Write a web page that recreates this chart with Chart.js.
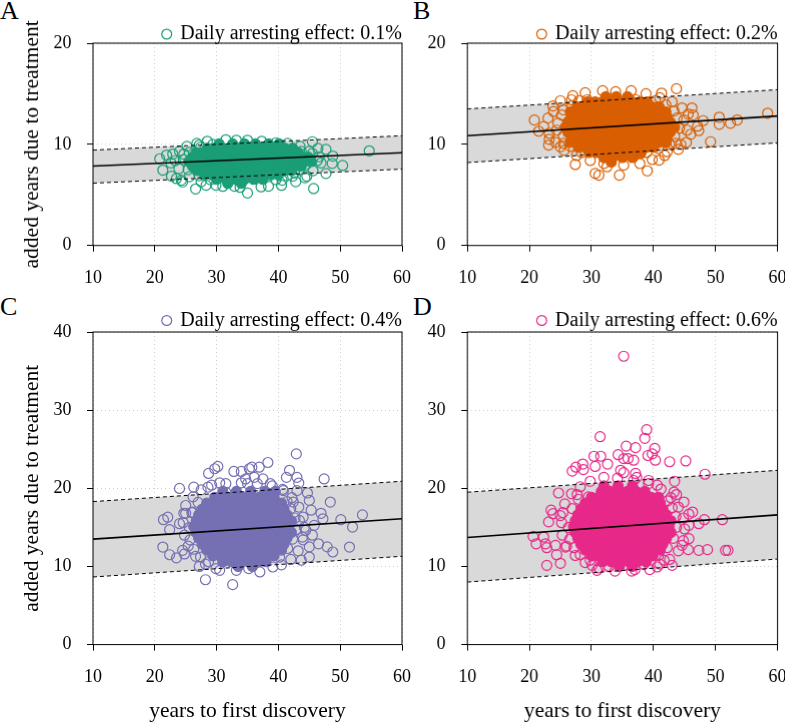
<!DOCTYPE html>
<html>
<head>
<meta charset="utf-8">
<script src="https://cdn.jsdelivr.net/npm/chart.js@4.4.1/dist/chart.umd.min.js"></script>
<style>
  body { margin: 0; width: 785px; height: 723px; background: #fff; position: relative; overflow: hidden;
         font-family: "Liberation Serif", "Times New Roman", serif; }
  .panel { position: absolute; width: 420px; height: 340px; }
  .letter { position: absolute; font-size: 26px; line-height: 26px; color: #000; }
</style>
</head>
<body>
<div class="letter" style="left:0px;top:-2px">A</div>
<div class="letter" style="left:413px;top:-2px">B</div>
<div class="letter" style="left:0px;top:294px">C</div>
<div class="letter" style="left:413px;top:294px">D</div>
<div class="panel" id="wrapA"><canvas id="chartA"></canvas></div>
<div class="panel" id="wrapB"><canvas id="chartB"></canvas></div>
<div class="panel" id="wrapC"><canvas id="chartC"></canvas></div>
<div class="panel" id="wrapD"><canvas id="chartD"></canvas></div>
<script>
const serif = '"Liberation Serif", "Times New Roman", serif';

// x range of the fitted lines
const fitX = [10, 60];

// regression line and prediction band, values at x = 10 and x = 60
const fitA = [7.85, 9.17];
const upperA = [9.43, 10.85];
const lowerA = [6.16, 7.55];
const fitB = [10.85, 12.8];
const upperB = [13.5, 15.4];
const lowerB = [8.2, 10.15];
const fitC = [13.5, 16.1];
const upperC = [18.3, 20.9];
const lowerC = [8.65, 11.3];
const fitD = [13.7, 16.6];
const upperD = [19.5, 22.3];
const lowerD = [8.0, 10.95];

// solid middle of each cloud: [y, [x, x, ...]]
const coreA = [
  [10.05, [30.4, 32.6, 34.5, 36.3, 38.4, 40.1]],
  [9.62, [28.5, 29.8, 31.0, 32.3, 33.5, 34.8, 36.0, 37.3, 38.5, 39.8, 41.0, 42.3]],
  [9.18, [26.7, 27.8, 28.9, 30.0, 31.1, 32.2, 33.3, 34.4, 35.5, 36.6, 37.7, 38.8, 39.9, 41.0, 42.1, 43.2]],
  [8.74, [26.1, 27.2, 28.3, 29.4, 30.5, 31.6, 32.7, 33.8, 34.9, 36.0, 37.1, 38.2, 39.3, 40.4, 41.5, 42.6, 43.7, 44.8]],
  [8.30, [25.5, 26.6, 27.7, 28.8, 29.9, 31.0, 32.1, 33.2, 34.3, 35.4, 36.5, 37.6, 38.7, 39.8, 40.9, 42.0, 43.1, 44.2, 45.3]],
  [7.86, [26.1, 27.2, 28.3, 29.4, 30.5, 31.6, 32.7, 33.8, 34.9, 36.0, 37.1, 38.2, 39.3, 40.4, 41.5, 42.6, 43.7]],
  [7.42, [26.8, 27.9, 29.0, 30.1, 31.2, 32.3, 33.4, 34.5, 35.6, 36.7, 37.8, 38.9, 40.0, 41.1, 42.2]],
  [6.98, [28.0, 29.2, 30.4, 31.6, 32.8, 34.0, 35.2, 36.4, 37.6, 38.8, 40.0]],
  [6.54, [30.0, 31.5, 33.0, 34.5, 36.0, 37.5]],
  [6.15, [31.8, 34.0]]
];
const coreB = [
  [14.7, [32.3, 34.0, 35.8]],
  [14.2, [29.4, 30.6, 31.8, 33.0, 34.2, 35.4, 36.6, 37.8, 39.0]],
  [13.7, [27.7, 28.8, 29.9, 31.0, 32.1, 33.2, 34.3, 35.4, 36.5, 37.6, 38.7, 39.8, 40.9]],
  [13.2, [26.6, 27.7, 28.8, 29.9, 31.0, 32.1, 33.2, 34.3, 35.4, 36.5, 37.6, 38.7, 39.8, 40.9, 42.0]],
  [12.7, [26.8, 27.9, 29.0, 30.1, 31.2, 32.3, 33.4, 34.5, 35.6, 36.7, 37.8, 38.9, 40.0, 41.1, 42.2]],
  [12.2, [26.2, 27.3, 28.4, 29.5, 30.6, 31.7, 32.8, 33.9, 35.0, 36.1, 37.2, 38.3, 39.4, 40.5, 41.6, 42.7]],
  [11.7, [25.8, 26.9, 28.0, 29.1, 30.2, 31.3, 32.4, 33.5, 34.6, 35.7, 36.8, 37.9, 39.0, 40.1, 41.2, 42.3, 43.4]],
  [11.2, [26.2, 27.3, 28.4, 29.5, 30.6, 31.7, 32.8, 33.9, 35.0, 36.1, 37.2, 38.3, 39.4, 40.5, 41.6, 42.7]],
  [10.7, [26.8, 27.9, 29.0, 30.1, 31.2, 32.3, 33.4, 34.5, 35.6, 36.7, 37.8, 38.9, 40.0, 41.1, 42.2]],
  [10.2, [26.6, 27.7, 28.8, 29.9, 31.0, 32.1, 33.2, 34.3, 35.4, 36.5, 37.6, 38.7, 39.8, 40.9, 42.0]],
  [9.7, [27.9, 29.0, 30.1, 31.2, 32.3, 33.4, 34.5, 35.6, 36.7, 37.8, 38.9, 40.0]],
  [9.2, [29.6, 30.8, 32.0, 33.2, 34.4, 35.6, 36.8, 38.0]],
  [8.7, [32.0, 33.4, 35.0, 36.6]],
  [8.25, [33.2]]
];
const coreC = [
  [19.6, [31.0, 33.2, 35.5, 37.8, 39.5]],
  [18.85, [29.7, 30.9, 32.1, 33.3, 34.5, 35.7, 36.9, 38.1, 39.3]],
  [18.1, [28.4, 29.5, 30.6, 31.7, 32.8, 33.9, 35.0, 36.1, 37.2, 38.3, 39.4, 40.5]],
  [17.35, [27.7, 28.8, 29.9, 31.0, 32.1, 33.2, 34.3, 35.4, 36.5, 37.6, 38.7, 39.8, 40.9]],
  [16.6, [27.1, 28.2, 29.3, 30.4, 31.5, 32.6, 33.7, 34.8, 35.9, 37.0, 38.1, 39.2, 40.3, 41.4]],
  [15.85, [26.7, 27.8, 28.9, 30.0, 31.1, 32.2, 33.3, 34.4, 35.5, 36.6, 37.7, 38.8, 39.9, 41.0, 42.1]],
  [15.1, [26.3, 27.4, 28.5, 29.6, 30.7, 31.8, 32.9, 34.0, 35.1, 36.2, 37.3, 38.4, 39.5, 40.6, 41.7]],
  [14.35, [26.7, 27.8, 28.9, 30.0, 31.1, 32.2, 33.3, 34.4, 35.5, 36.6, 37.7, 38.8, 39.9, 41.0, 42.1]],
  [13.6, [27.1, 28.2, 29.3, 30.4, 31.5, 32.6, 33.7, 34.8, 35.9, 37.0, 38.1, 39.2, 40.3, 41.4]],
  [12.85, [27.7, 28.8, 29.9, 31.0, 32.1, 33.2, 34.3, 35.4, 36.5, 37.6, 38.7, 39.8, 40.9]],
  [12.1, [28.4, 29.5, 30.6, 31.7, 32.8, 33.9, 35.0, 36.1, 37.2, 38.3, 39.4, 40.5]],
  [11.35, [29.4, 30.5, 31.6, 32.7, 33.8, 34.9, 36.0, 37.1, 38.2, 39.3]],
  [10.6, [31.0, 32.4, 33.8, 35.2, 36.6, 38.0]],
  [10.0, [33.5, 35.8]]
];
const coreD = [
  [20.3, [32.0, 34.3, 36.6]],
  [19.6, [31.6, 33.0, 34.4, 35.8, 37.2, 38.6]],
  [18.85, [30.0, 31.2, 32.4, 33.6, 34.8, 36.0, 37.2, 38.4, 39.6, 40.8]],
  [18.1, [29.0, 30.1, 31.2, 32.3, 33.4, 34.5, 35.6, 36.7, 37.8, 38.9, 40.0, 41.1]],
  [17.35, [28.3, 29.4, 30.5, 31.6, 32.7, 33.8, 34.9, 36.0, 37.1, 38.2, 39.3, 40.4, 41.5]],
  [16.6, [27.8, 28.9, 30.0, 31.1, 32.2, 33.3, 34.4, 35.5, 36.6, 37.7, 38.8, 39.9, 41.0, 42.1]],
  [15.85, [27.4, 28.5, 29.6, 30.7, 31.8, 32.9, 34.0, 35.1, 36.2, 37.3, 38.4, 39.5, 40.6, 41.7, 42.8]],
  [15.1, [27.1, 28.2, 29.3, 30.4, 31.5, 32.6, 33.7, 34.8, 35.9, 37.0, 38.1, 39.2, 40.3, 41.4, 42.5]],
  [14.35, [27.4, 28.5, 29.6, 30.7, 31.8, 32.9, 34.0, 35.1, 36.2, 37.3, 38.4, 39.5, 40.6, 41.7, 42.8]],
  [13.6, [27.8, 28.9, 30.0, 31.1, 32.2, 33.3, 34.4, 35.5, 36.6, 37.7, 38.8, 39.9, 41.0, 42.1]],
  [12.85, [28.3, 29.4, 30.5, 31.6, 32.7, 33.8, 34.9, 36.0, 37.1, 38.2, 39.3, 40.4, 41.5]],
  [12.1, [29.0, 30.1, 31.2, 32.3, 33.4, 34.5, 35.6, 36.7, 37.8, 38.9, 40.0, 41.1]],
  [11.35, [30.0, 31.1, 32.2, 33.3, 34.4, 35.5, 36.6, 37.7, 38.8, 39.9]],
  [10.6, [31.8, 33.2, 34.6, 36.0, 37.4, 38.8]],
  [10.0, [34.5, 36.6]]
];

// open circles around each cloud: [x, y]
const looseA = [[20.8,8.57],[21.3,7.45],[21.9,8.94],[22.9,9.04],[22.6,8.17],[22.7,6.85],[23.5,6.62],[24.5,6.29],
  [26.6,5.59],[27.2,9.93],[29.4,10.0],[32.9,5.86],[35.0,5.19],[33.2,10.4],[35.0,10.4],[38.4,5.86],[39.6,10.16],
  [40.6,6.45],[42.3,6.85],[42.6,7.18],[44.6,6.85],[45.5,10.26],[45.7,5.63],[46.4,9.6],[47.7,9.5],[47.7,7.12],
  [48.8,8.84],[48.7,8.11],[50.4,7.91],[54.7,9.36],[46.9,8.17],[45.5,9.1],[46.6,8.77],[24.7,9.04],[24.3,6.45],
  [28.3,5.96],[29.9,5.96],
  [24.0,9.3],[25.2,9.8],[26.8,10.1],[28.5,10.3],[31.5,10.45],[37.3,10.3],[41.5,10.1],[43.5,9.8],[45.0,9.3],
  [46.3,8.4],[45.6,7.4],[44.3,6.7],[42.8,6.3],[40.5,5.95],[37.2,5.8],[33.8,5.75],[31.0,5.85],[27.5,6.3],
  [25.6,6.8],[23.9,7.6],[23.3,8.4],[24.6,8.5],[25.4,7.5],[27.2,6.9],[29.0,6.5],[39.6,6.5],[41.4,6.9],
  [43.4,7.5],[44.5,8.0],[43.7,9.3],[44.1,8.6],[25.6,9.2],[27.4,9.7]];
const looseB = [[20.8,12.4],[21.5,11.3],[22.3,11.75],[23.1,9.93],[23.2,10.5],[23.9,13.24],[25.0,9.76],[25.5,13.4],
  [27.4,8.01],[29.3,14.4],[30.6,7.12],[31.2,6.95],[32.0,8.11],[32.5,7.78],[33.9,15.2],[34.5,6.95],[35.2,7.94],
  [36.4,15.3],[37.2,14.4],[39.0,7.38],[40.9,8.44],[41.3,15.06],[43.7,15.5],[44.4,10.0],[46.2,13.6],[46.4,12.9],
  [47.1,11.8],[47.3,11.35],[48.0,12.34],[49.2,10.26],[50.6,12.68],[50.6,11.98],[52.4,12.08],[53.5,12.41],
  [58.4,13.08],[45.4,11.4],[44.9,12.4],[43.6,10.1],[42.2,9.27],[37.9,9.1],[36.8,8.77],[33.3,8.77],[25.5,10.1],
  [26.8,14.4],
  [23.0,12.6],[23.8,13.8],[25.0,14.3],[27.0,14.8],[29.0,15.1],[31.8,15.3],[38.8,15.0],[41.0,14.6],[43.0,14.2],
  [44.6,13.6],[45.6,13.0],[46.0,11.0],[45.3,10.2],[44.0,9.5],[41.8,8.9],[39.8,8.5],[37.8,8.1],[29.8,8.4],
  [27.6,8.9],[25.6,9.4],[24.2,10.2],[23.2,11.1],[24.6,12.1],[24.4,11.4],[25.2,12.9],[25.5,10.8],[26.6,9.8],
  [28.4,9.2],[38.9,9.2],[40.8,9.6],[42.6,10.0],[43.4,10.8],[44.2,11.6],[43.8,12.6],[43.3,13.3],[42.0,13.9],
  [40.3,14.3],[28.0,14.3],[26.8,13.8]];
const looseC = [[21.3,12.48],[21.4,15.98],[22.1,16.3],[22.4,14.7],[22.4,11.5],[23.5,11.1],[24.0,19.98],[24.0,15.47],
  [24.5,12.06],[24.8,11.6],[25.0,16.8],[26.1,16.96],[26.3,20.15],[27.2,10.0],[28.2,8.3],[28.6,20.15],[28.7,21.9],
  [29.7,22.5],[30.2,22.8],[29.9,9.72],[30.5,20.7],[31.5,19.47],[32.8,22.16],[32.6,7.67],[33.2,9.5],[34.0,22.16],
  [34.7,21.2],[35.0,20.6],[35.3,22.5],[35.7,22.7],[36.1,21.4],[36.9,22.7],[37.5,21.2],[38.3,23.3],[38.7,20.6],
  [35.2,9.72],[39.1,9.93],[40.7,19.86],[41.3,21.4],[41.8,22.3],[42.4,18.24],[42.9,24.4],[43.0,21.4],[43.3,20.67],
  [43.0,19.7],[43.7,10.8],[44.7,19.4],[45.0,18.45],[45.0,11.2],[45.3,17.2],[45.5,14.0],[45.0,12.5],[45.8,15.26],
  [46.5,12.9],[46.9,16.8],[47.2,16.1],[47.4,21.2],[47.9,12.5],[48.4,18.24],[48.8,11.85],[50.1,15.98],[51.5,12.48],
  [52.0,15.04],[53.6,16.6],[43.9,13.76],[44.4,14.6],[43.4,15.9],
  [25.0,17.8],[26.2,18.9],[27.5,19.8],[29.2,20.4],[31.5,20.6],[34.0,20.7],[36.6,20.6],[39.0,20.3],[40.8,19.7],
  [42.2,18.8],[43.3,17.6],[44.0,16.3],[44.2,15.0],[44.0,13.4],[43.2,12.0],[42.0,10.9],[40.5,10.2],[37.0,9.3],
  [30.5,9.5],[28.2,10.3],[26.6,11.3],[25.4,12.6],[24.8,14.0],[24.6,15.6],[24.7,16.8],[25.6,15.0],[25.7,13.4],
  [26.3,12.2],[27.4,11.2],[28.7,10.6],[40.2,11.2],[41.5,12.3],[42.3,13.5],[42.9,14.7],[42.7,16.2],[42.0,17.4],
  [41.4,18.3],[27.0,18.2],[26.0,16.9]];
const looseD = [[35.2,36.9],[31.4,26.6],[38.9,27.5],[38.6,26.4],[35.6,25.4],[37.1,25.2],[40.2,25.1],[39.8,24.4],
  [39.1,24.2],[40.3,23.6],[42.6,23.4],[45.2,23.5],[34.3,24.3],[30.4,24.1],[31.5,24.1],[30.6,22.8],[32.6,23.1],
  [35.2,23.8],[35.9,23.8],[36.8,23.6],[26.9,22.2],[27.5,22.7],[28.6,23.1],[28.7,22.4],[34.7,22.3],[35.2,22.0],
  [37.1,21.9],[37.3,21.4],[39.2,21.0],[40.6,20.4],[43.4,20.9],[48.3,21.8],[24.7,19.4],[27.7,19.2],[29.5,18.9],
  [43.3,19.5],[43.7,19.2],[44.9,18.24],[23.5,17.2],[23.8,16.75],[23.1,15.7],[25.0,16.5],[46.3,16.96],[45.7,16.7],
  [45.7,15.26],[47.3,15.47],[48.2,15.98],[51.1,15.98],[20.6,13.85],[21.1,12.9],[22.3,13.76],[22.6,12.9],
  [22.8,12.4],[24.2,12.7],[24.4,11.5],[22.8,10.14],[25.0,10.4],[25.8,12.48],[45.7,13.55],[44.6,12.7],[45.6,12.15],
  [47.3,12.06],[48.7,12.15],[51.6,12.06],[52.0,12.06],[43.0,10.14],[40.6,9.93],[39.4,9.6],[37.0,9.6],[30.9,9.5],
  [30.1,10.14],[32.8,10.0],[35.2,10.14],[38.4,10.27],[41.7,10.8],
  [25.7,18.0],[26.8,19.3],[28.2,20.2],[29.8,20.9],[32.0,21.4],[34.2,21.3],[36.8,21.0],[39.2,20.6],[41.2,19.9],
  [42.8,18.8],[44.0,17.6],[44.8,16.2],[45.0,14.8],[44.8,13.3],[44.0,12.0],[42.6,10.9],[41.0,10.3],[36.5,9.4],
  [33.8,9.4],[31.2,9.8],[29.0,10.5],[27.4,11.4],[26.0,12.6],[25.3,14.0],[25.2,15.6],[25.4,16.9],[26.3,15.0],
  [26.5,13.5],[27.2,12.4],[28.2,11.5],[29.8,10.8],[40.8,11.4],[42.2,12.4],[43.2,13.6],[43.7,15.0],[43.6,16.4],
  [43.0,17.5],[42.3,18.4],[27.9,18.6],[26.9,17.4]];

const panels = [
  { id: 'A', color: '#1b9e77', label: 'Daily arresting effect: 0.1%', core: coreA, loose: looseA,
    fit: fitA, upper: upperA, lower: lowerA, yMax: 20, yTitle: true, xTitle: false, legendDy: 11,
    box: { left: 93.3, top: 43.3, width: 309, height: 201.7 } },
  { id: 'B', color: '#d95f02', label: 'Daily arresting effect: 0.2%', core: coreB, loose: looseB,
    fit: fitB, upper: upperB, lower: lowerB, yMax: 20, yTitle: false, xTitle: false, legendDy: 11,
    box: { left: 467.3, top: 43.3, width: 309.4, height: 201.7 } },
  { id: 'C', color: '#7570b3', label: 'Daily arresting effect: 0.4%', core: coreC, loose: looseC,
    fit: fitC, upper: upperC, lower: lowerC, yMax: 40, yTitle: true, xTitle: true, legendDy: 8.5,
    box: { left: 93.3, top: 331.7, width: 309, height: 312.6 } },
  { id: 'D', color: '#e7298a', label: 'Daily arresting effect: 0.6%', core: coreD, loose: looseD,
    fit: fitD, upper: upperD, lower: lowerD, yMax: 40, yTitle: false, xTitle: true, legendDy: 8.5,
    box: { left: 467.3, top: 331.7, width: 309.4, height: 312.6 } }
];

Chart.defaults.font.family = serif;
Chart.defaults.color = '#000';

const framePlugin = {
  id: 'frame',
  afterDraw(chart) {
    const { ctx, chartArea } = chart;
    ctx.save();
    ctx.strokeStyle = '#000';
    ctx.lineWidth = 1;
    ctx.strokeRect(chartArea.left, chartArea.top, chartArea.right - chartArea.left, chartArea.bottom - chartArea.top);
    ctx.restore();
  }
};

// legend sits just above the plot box, flush with its right edge
const legendNudge = {
  id: 'legendNudge',
  afterLayout(chart, args, opts) {
    const lg = chart.legend;
    if (!lg) return;
    lg.left -= opts.dx;
    lg.right -= opts.dx;
    lg.top += opts.dy;
    lg.bottom += opts.dy;
  }
};

function rowPoints(rows) {
  const pts = [];
  rows.forEach(([y, xs]) => xs.forEach(x => pts.push({ x: x, y: y })));
  return pts;
}

function pairPoints(list) {
  return list.map(([x, y]) => ({ x: x, y: y }));
}

function linePoints(vals) {
  return [{ x: fitX[0], y: vals[0] }, { x: fitX[1], y: vals[1] }];
}

function makeChart(p) {
  const wrap = document.getElementById('wrap' + p.id);
  const chart = new Chart(document.getElementById('chart' + p.id), {
    type: 'scatter',
    data: {
      datasets: [
        { type: 'line', data: linePoints(p.fit), borderColor: '#000', borderWidth: 1.6, pointRadius: 0, fill: false },
        { type: 'line', data: linePoints(p.upper), borderColor: '#000', borderWidth: 1, borderDash: [4, 3],
          pointRadius: 0, fill: '+1', backgroundColor: '#d9d9d9' },
        { type: 'line', data: linePoints(p.lower), borderColor: '#000', borderWidth: 1, borderDash: [4, 3],
          pointRadius: 0, fill: false },
        { label: p.label, data: pairPoints(p.loose), borderColor: p.color, backgroundColor: 'rgba(0,0,0,0)',
          pointRadius: 5, pointHoverRadius: 5, borderWidth: 1.2 },
        { label: 'core', data: rowPoints(p.core), borderColor: p.color, backgroundColor: p.color,
          pointRadius: 5, pointHoverRadius: 5, borderWidth: 1.2 }
      ]
    },
    options: {
      responsive: true,
      maintainAspectRatio: false,
      animation: false,
      events: [],
      layout: { padding: { left: 0, right: 0, top: 0, bottom: 2 } },
      plugins: {
        filler: { drawTime: 'beforeDatasetsDraw' },
        tooltip: { enabled: false },
        legendNudge: { dx: 17, dy: p.legendDy },
        legend: {
          position: 'top',
          align: 'end',
          labels: {
            filter: item => item.datasetIndex === 3,
            usePointStyle: true,
            pointStyle: 'circle',
            boxWidth: 7,
            boxHeight: 7,
            padding: 8,
            color: '#000',
            font: { family: serif, size: 20 }
          }
        }
      },
      scales: {
        x: {
          type: 'linear',
          min: 10,
          max: 60,
          ticks: { stepSize: 10, color: '#000', font: { family: serif, size: 18 }, padding: 16, maxRotation: 0 },
          grid: { color: '#cccccc', tickColor: '#000', tickLength: 6, lineWidth: 1 },
          border: { display: false, dash: [1, 3] },
          title: { display: p.xTitle, text: 'years to first discovery', color: '#000',
                   font: { family: serif, size: 21.5 }, padding: { top: -6, bottom: 2 } }
        },
        y: {
          min: 0,
          max: p.yMax,
          ticks: { stepSize: 10, color: '#000', font: { family: serif, size: 18 }, padding: 15.6 },
          grid: { color: '#cccccc', tickColor: '#000', tickLength: 6, lineWidth: 1 },
          border: { display: false, dash: [1, 3] },
          title: { display: p.yTitle, text: 'added years due to treatment', color: '#000',
                   font: { family: serif, size: 21.5 }, padding: { top: 4, bottom: -7 } }
        }
      }
    },
    plugins: [framePlugin, legendNudge]
  });

  // move and size the canvas so the plot box lands where it sits in the figure
  const a = chart.chartArea;
  const mL = a.left, mT = a.top, mR = chart.width - a.right, mB = chart.height - a.bottom;
  wrap.style.left = (p.box.left - mL) + 'px';
  wrap.style.top = (p.box.top - mT) + 'px';
  wrap.style.width = (p.box.width + mL + mR) + 'px';
  wrap.style.height = (p.box.height + mT + mB) + 'px';
  chart.resize();
  return chart;
}

panels.forEach(makeChart);
</script>
</body>
</html>
